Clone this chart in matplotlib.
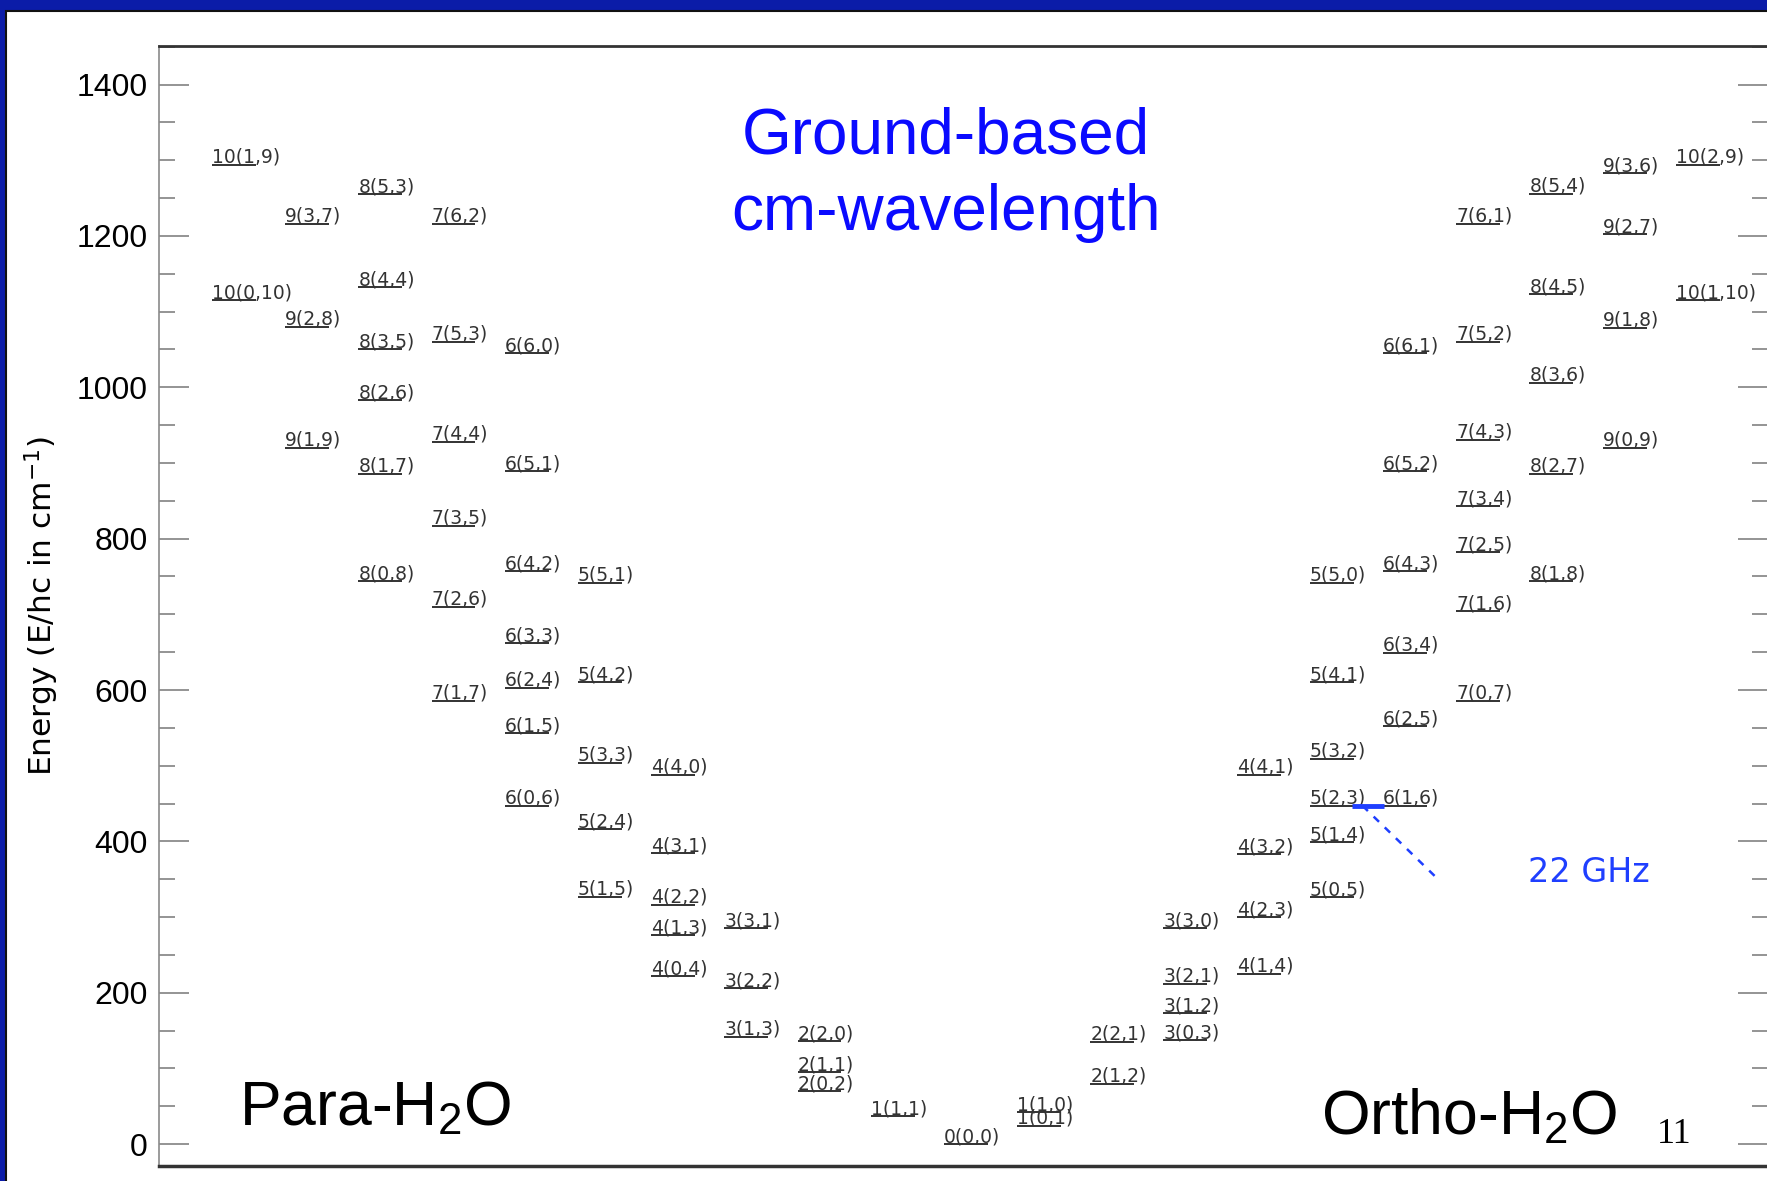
import matplotlib.pyplot as plt
from matplotlib.patches import Rectangle
from matplotlib.ticker import MultipleLocator
from matplotlib.transforms import offset_copy

plt.rcParams["mathtext.fontset"] = "custom"
plt.rcParams["mathtext.rm"] = "Liberation Sans"
plt.rcParams["mathtext.it"] = "Liberation Sans:italic"

# rotational levels of para water: J(Ka,Kc) and energy in cm^-1
para_J = [10, 10, 9, 9, 9, 8, 8, 8, 8, 8, 8, 7, 7, 7, 7, 7, 7,
          6, 6, 6, 6, 6, 6, 6, 5, 5, 5, 5, 5, 4, 4, 4, 4, 4,
          3, 3, 3, 2, 2, 2, 1, 0]
para_Ka = [1, 0, 3, 2, 1, 5, 4, 3, 2, 1, 0, 6, 5, 4, 3, 2, 1,
           6, 5, 4, 3, 2, 1, 0, 5, 4, 3, 2, 1, 4, 3, 2, 1, 0,
           3, 2, 1, 2, 1, 0, 1, 0]
para_Kc = [9, 10, 7, 8, 9, 3, 4, 5, 6, 7, 8, 2, 3, 4, 5, 6, 7,
           0, 1, 2, 3, 4, 5, 6, 1, 2, 3, 4, 5, 0, 1, 2, 3, 4,
           1, 2, 3, 0, 1, 2, 1, 0]
para_E = [1294, 1115, 1216, 1080, 920, 1255, 1132, 1050, 983, 886, 744,
          1216, 1060, 928, 817, 710, 586,
          1045, 889, 757, 662, 603, 543, 447,
          742, 610, 504, 416, 327,
          488, 384, 316, 276, 222,
          285, 206, 142, 136, 95, 70, 37, 0]

# rotational levels of ortho water
ortho_J = [1, 1, 2, 2, 3, 3, 3, 3, 4, 4, 4, 4, 5, 5, 5, 5, 5, 5,
           6, 6, 6, 6, 6, 6, 7, 7, 7, 7, 7, 7, 7,
           8, 8, 8, 8, 8, 9, 9, 9, 9, 10, 10]
ortho_Ka = [1, 0, 2, 1, 3, 2, 1, 0, 4, 3, 2, 1, 5, 4, 3, 2, 1, 0,
            6, 5, 4, 3, 2, 1, 6, 5, 4, 3, 2, 1, 0,
            5, 4, 3, 2, 1, 3, 2, 1, 0, 2, 1]
ortho_Kc = [0, 1, 1, 2, 0, 1, 2, 3, 1, 2, 3, 4, 0, 1, 2, 3, 4, 5,
            1, 2, 3, 4, 5, 6, 1, 2, 3, 4, 5, 6, 7,
            4, 5, 6, 7, 8, 6, 7, 8, 9, 9, 10]
ortho_E = [42, 24, 135, 80, 285, 212, 173, 137, 488, 383, 300, 225,
           742, 610, 509, 447, 399, 326,
           1045, 889, 757, 649, 552, 447,
           1216, 1060, 931, 843, 782, 704, 586,
           1256, 1123, 1006, 886, 744,
           1283, 1202, 1079, 920, 1294, 1115]

# the 22 GHz maser line 6(1,6) -> 5(2,3)
maser_upper = (6, 447)
maser_lower = (5, 447)
maser_label = "22 GHz"
maser_text_pos = (17.98, 346)
maser_dash_end = (16.73, 352)

W, H = 1767, 1181
level_w = 0.6
ink = "#222222"
blue = "#1f3fff"

fig = plt.figure(figsize=(W / 100, H / 100), dpi=100, facecolor="#0b1ca8")
fig.add_artist(Rectangle((5.5 / W, -0.01), 1.02, 1 - 10.5 / H + 0.01,
                         transform=fig.transFigure, facecolor="white",
                         edgecolor="#111111", lw=1.5, zorder=-1))

ax = fig.add_axes([159 / W, 1 - 1166 / H, (1768 - 159) / W, 1120 / H])
ax.set_facecolor("none")
ax.set_xlim(-0.724, 21.26)
ax.set_ylim(-29, 1451)

txt_tr = offset_copy(ax.transData, fig=fig, x=0, y=2, units="dots")


def draw_levels(J, Ka, Kc, E, column):
    for j, a, c, e in zip(J, Ka, Kc, E):
        x = column(j)
        ax.hlines(e, x, x + level_w, color=ink, lw=1.3)
        ax.text(x, e, f"{j}({a},{c})", transform=txt_tr, ha="left",
                va="baseline", fontsize=13.5, color="#333333",
                family="DejaVu Sans")


draw_levels(para_J, para_Ka, para_Kc, para_E, lambda j: 10 - j)
draw_levels(ortho_J, ortho_Ka, ortho_Kc, ortho_E, lambda j: 10 + j)

# maser transition between the two ortho columns
x0 = 10 + maser_lower[0] + level_w
x1 = 10 + maser_upper[0]
ax.hlines(maser_upper[1], x0 - 0.03, x1 + 0.02, color=blue, lw=3.5, zorder=3)
ax.plot([x0 + 0.12, maser_dash_end[0]], [maser_upper[1], maser_dash_end[1]],
        color=blue, lw=1.8, dashes=(3, 3.2))
ax.text(maser_text_pos[0], maser_text_pos[1], maser_label, color=blue,
        fontsize=24, family="DejaVu Sans", va="baseline", ha="left")

# axes styling
ax.yaxis.set_major_locator(MultipleLocator(200))
ax.yaxis.set_minor_locator(MultipleLocator(50))
ax.set_xticks([])
ax.tick_params(axis="y", which="both", direction="in", left=True, right=True,
               color="#777777", width=1.1)
ax.tick_params(axis="y", which="major", length=21.5, pad=8, labelsize=23)
ax.tick_params(axis="y", which="minor", length=11.5)
for lab in ax.get_yticklabels():
    lab.set_family("Liberation Sans")
ax.spines["left"].set_color("#8a8a8a")
ax.spines["left"].set_linewidth(1.2)
ax.spines["top"].set_color("#333333")
ax.spines["top"].set_linewidth(2)
ax.spines["bottom"].set_color("#333333")
ax.spines["bottom"].set_linewidth(2.5)
ax.spines["right"].set_visible(False)

ax.set_ylabel("Energy (E/hc in cm$^{-1}$)", fontsize=22.5, family="DejaVu Sans",
              math_fontfamily="dejavusans")
ax.yaxis.set_label_coords(-0.061, 0.5)

ax.text(0.0497, 0.0366, "Para-H$_2$O", transform=ax.transAxes, fontsize=45,
        family="Liberation Sans", va="baseline", ha="left")
ax.text(0.722, 0.0286, "Ortho-H$_2$O", transform=ax.transAxes, fontsize=45,
        family="Liberation Sans", va="baseline", ha="left")

fig.text(946 / W, 1 - 154 / H, "Ground-based", color="#0a0aff", fontsize=46,
         family="Liberation Sans", ha="center", va="baseline")
fig.text(946 / W, 1 - 230 / H, "cm-wavelength", color="#0a0aff", fontsize=46,
         family="Liberation Sans", ha="center", va="baseline")
fig.text(1657 / W, 1 - 1143 / H, "11", fontsize=26, family="Liberation Serif",
         ha="left", va="baseline")

fig.savefig("out.png", dpi=100, facecolor=fig.get_facecolor())
